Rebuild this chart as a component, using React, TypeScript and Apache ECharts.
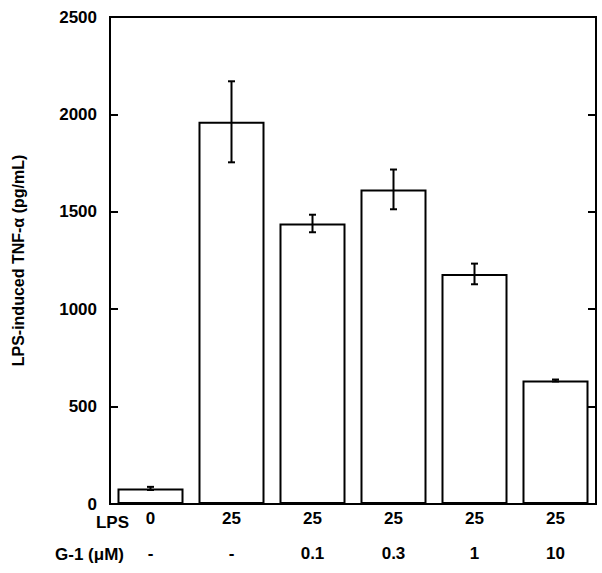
import React, { useEffect, useRef } from "react";
import * as echarts from "echarts";

const lpsLabels = ["0", "25", "25", "25", "25", "25"];
const g1Labels = ["-", "-", "0.1", "0.3", "1", "10"];
const tnfValues = [80, 1962, 1440, 1615, 1181, 634];
const tnfErrors = [8, 208, 45, 102, 53, 5];
const yTicks = [0, 500, 1000, 1500, 2000, 2500];

const FONT = "'Liberation Sans', Arial, sans-serif";

export default function App() {
  const ref = useRef<HTMLDivElement>(null);
  useEffect(() => {
    if (!ref.current) return;
    const chart = echarts.init(ref.current, null, { renderer: "svg" });
    const errData = tnfValues.map((v, i) => [i, v - tnfErrors[i], v + tnfErrors[i]]);
    chart.setOption({
      animation: false,
      backgroundColor: "#ffffff",
      grid: { left: 110, right: 6, top: 17, bottom: 69, show: true, borderColor: "#000", borderWidth: 2, backgroundColor: "transparent" },
      xAxis: [
        {
          type: "category",
          data: lpsLabels,
          position: "bottom",
          axisLine: { show: true, lineStyle: { color: "#000", width: 2 } },
          axisTick: { show: false },
          axisLabel: { margin: 6, color: "#000", fontFamily: FONT, fontWeight: "bold", fontSize: 17 },
        },
        {
          type: "category",
          data: g1Labels,
          position: "bottom",
          offset: 35,
          axisLine: { show: false },
          axisTick: { show: false },
          axisLabel: { margin: 6, color: "#000", fontFamily: FONT, fontWeight: "bold", fontSize: 17 },
        },
      ],
      yAxis: [
        {
          type: "value",
          min: 0,
          max: 2500,
          interval: 500,
          axisLine: { show: true, lineStyle: { color: "#000", width: 2 } },
          axisTick: { show: true, inside: true, length: 8, lineStyle: { color: "#000", width: 2 } },
          splitLine: { show: false },
          axisLabel: {
            margin: 13,
            color: "#000",
            fontFamily: FONT,
            fontWeight: "bold",
            fontSize: 17,
            formatter: (v: number) => (yTicks.includes(v) ? String(v) : ""),
          },
          name: "LPS-induced TNF-α (pg/mL)",
          nameLocation: "middle",
          nameGap: 84,
          nameRotate: 90,
          nameTextStyle: { color: "#000", fontFamily: FONT, fontWeight: "bold", fontSize: 16, padding: [0, 0, 0, 0] },
        },
        {
          type: "value",
          min: 0,
          max: 2500,
          interval: 500,
          position: "right",
          axisLine: { show: true, lineStyle: { color: "#000", width: 2 } },
          axisTick: { show: true, inside: true, length: 8, lineStyle: { color: "#000", width: 2 } },
          splitLine: { show: false },
          axisLabel: { show: false },
        },
      ],
      series: [
        {
          type: "bar",
          data: tnfValues,
          barWidth: "81.5%",
          itemStyle: { color: "#fff", borderColor: "#000", borderWidth: 2 },
        },
        {
          type: "custom",
          data: errData,
          z: 10,
          renderItem: (params: any, api: any) => {
            const x = api.value(0);
            const lo = api.coord([x, api.value(1)]);
            const hi = api.coord([x, api.value(2)]);
            const cap = 3.5;
            const style = { stroke: "#000", lineWidth: 2 };
            return {
              type: "group",
              children: [
                { type: "line", shape: { x1: lo[0], y1: lo[1], x2: hi[0], y2: hi[1] }, style },
                { type: "line", shape: { x1: lo[0] - cap, y1: lo[1], x2: lo[0] + cap, y2: lo[1] }, style },
                { type: "line", shape: { x1: hi[0] - cap, y1: hi[1], x2: hi[0] + cap, y2: hi[1] }, style },
              ],
            };
          },
        },
      ],
      graphic: [
        {
          type: "text",
          right: 602 - 129,
          top: 514,
          style: { text: "LPS", fill: "#000", font: `bold 17px ${FONT}` },
        },
        {
          type: "text",
          right: 602 - 124,
          top: 546,
          style: { text: "G-1 (μM)", fill: "#000", font: `bold 17px ${FONT}` },
        },
      ],
    });
    return () => chart.dispose();
  }, []);
  return <div ref={ref} style={{ position: "absolute", left: 0, top: 0, width: 602, height: 573 }} />;
}
